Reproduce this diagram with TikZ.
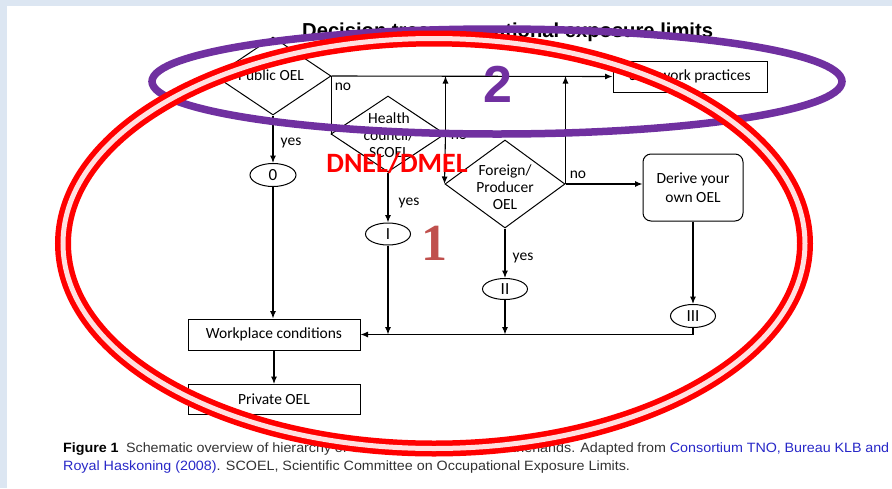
\documentclass[tikz,border=0pt]{standalone}
\usepackage{fontspec}
\setmainfont{Carlito}
\newfontfamily\titlefont{Liberation Sans}
\newfontfamily\capfont[FakeStretch=1.06]{Liberation Sans}
\newfontfamily\numfont{Liberation Serif}
\usetikzlibrary{shapes.geometric,arrows.meta}
\definecolor{bgblue}{RGB}{220,230,242}
\definecolor{ovred}{RGB}{255,0,0}
\definecolor{ovpink}{RGB}{255,224,224}
\definecolor{ovpurple}{RGB}{112,48,160}
\definecolor{numred}{RGB}{192,80,77}
\definecolor{linkblue}{RGB}{40,40,200}
\definecolor{captext}{RGB}{51,51,51}
\begin{document}
\begin{tikzpicture}[x=1pt,y=-1pt,
  every node/.style={font=\fontsize{15.5}{17}\selectfont},
  flow/.style={draw=black, line width=1.1pt},
  arr/.style={flow, -{Latex[length=7.5pt,width=6pt]}},
  decis/.style={draw, line width=1pt, diamond, inner sep=0pt},
  ovalnode/.style={draw, line width=1pt, ellipse, inner sep=0pt, minimum width=45, minimum height=22, font=\fontsize{17}{18}\selectfont},
  boxnode/.style={draw, line width=1pt, rectangle, inner sep=0pt},
  lbl/.style={inner sep=0pt},
  capnode/.style={anchor=base west, inner sep=0pt, font=\capfont\fontsize{13.5}{15}\selectfont, text=captext}
]
\useasboundingbox (0,0) rectangle (892,488);
\fill[bgblue] (0,0) rectangle (892,488);
\fill[white] (7,6) rectangle (892,488);

% title
\node[anchor=base west, inner sep=0pt, font=\titlefont\bfseries\fontsize{20.2}{22}\selectfont] (title) at (302,37.5) {Decision tree occupational exposure limits};

% decisions
\node[decis, minimum width=116, minimum height=78] (pub) at (273,76) {};
\node[lbl] (pubt) at (271,75) {Public OEL};
\node[decis, minimum width=114, minimum height=76] (hc) at (388,134) {};
\node[lbl, align=center] (hct) at (389,135) {Health\\council/\\SCOEL};
\node[decis, minimum width=120, minimum height=88] (fp) at (505,184) {};
\node[lbl, align=center] (fpt) at (505,187.5) {Foreign/\\Producer\\OEL};

% boxes
\node[boxnode, minimum width=154, minimum height=31] (safe) at (690,76.5) {Safe work practices};
\node[boxnode, rounded corners=8pt, minimum width=100, minimum height=67, align=center] (der) at (693,187.5) {Derive your\\[1.5pt]own OEL};
\node[boxnode, minimum width=172, minimum height=31] (work) at (274,334.5) {Workplace conditions};
\node[boxnode, minimum width=172, minimum height=30] (priv) at (274,399.5) {Private OEL};

% ovals
\node[ovalnode, minimum width=46, minimum height=23] (e0) at (273,175) {0};
\node[ovalnode] (e1) at (388,234) {I};
\node[ovalnode, minimum height=21] (e2) at (505,289) {II};
\node[ovalnode, minimum height=23] (e3) at (693,316) {III};
\coordinate (junc) at (693,334.5);

% connectors
\draw[arr] (pub.east) -- (safe.west);
\draw[flow] (pub.east) -- (pub.east |- hc.west) -- (hc.west);
\draw[arr] (hc.east) -- (hc.east |- pub.east);
\draw[arr] (hc.east) -- (fp.west);
\draw[arr] (fp.east) -- (fp.east -| der.west);
\draw[arr] (fp.east) -- (fp.east |- pub.east);
\draw[arr] (pub.south) -- (e0.north);
\draw[arr] (e0.south) -- (e0.south |- work.north);
\draw[arr] (hc.south) -- (e1.north);
\draw[arr] (e1.south) -- (e1.south |- junc);
\draw[arr] (fp.south) -- (e2.north);
\draw[arr] (e2.south) -- (e2.south |- junc);
\draw[arr] (der.south) -- (e3.north);
\draw[arr] (e3.south) -- (junc) -- (work.east);
\draw[arr] (work.south) -- (priv.north);

% labels
\node[lbl] (no1) at (343,87) {no};
\node[lbl] (no2) at (459,136) {no};
\node[lbl] (no3) at (578,175) {no};
\node[lbl] (yes1) at (291,143) {yes};
\node[lbl] (yes2) at (409,203) {yes};
\node[lbl] (yes3) at (523,258) {yes};

% caption
\node[capnode] (cap1) at (63,452) {\makebox[826pt][s]{\textcolor{black}{\bfseries Figure 1}\ \ Schematic overview of hierarchy of OEL types used in the Netherlands. Adapted from \textcolor{linkblue}{Consortium TNO, Bureau KLB and}}};
\node[capnode] (cap2) at (63,470) {\textcolor{linkblue}{Royal Haskoning (2008)}. SCOEL, Scientific Committee on Occupational Exposure Limits.};

% annotations
\node[inner sep=0pt, font=\bfseries\fontsize{28}{30}\selectfont, text=ovred] (dnel) at (397,163) {DNEL/DMEL};
\draw[ovpurple, line width=7.5pt] (497,81.5) ellipse [x radius=345, y radius=52.5];
\draw[ovred, line width=16pt] (434,243.5) ellipse [x radius=371, y radius=205];
\draw[ovpink, line width=5pt] (434,243.5) ellipse [x radius=371, y radius=205];
\node[inner sep=0pt, font=\numfont\bfseries\fontsize{52}{52}\selectfont, text=numred] (n1) at (434,243) {1};
\node[inner sep=0pt, font=\titlefont\bfseries\fontsize{52}{52}\selectfont, text=ovpurple] (n2) at (498,84) {2};
\end{tikzpicture}
\end{document}
